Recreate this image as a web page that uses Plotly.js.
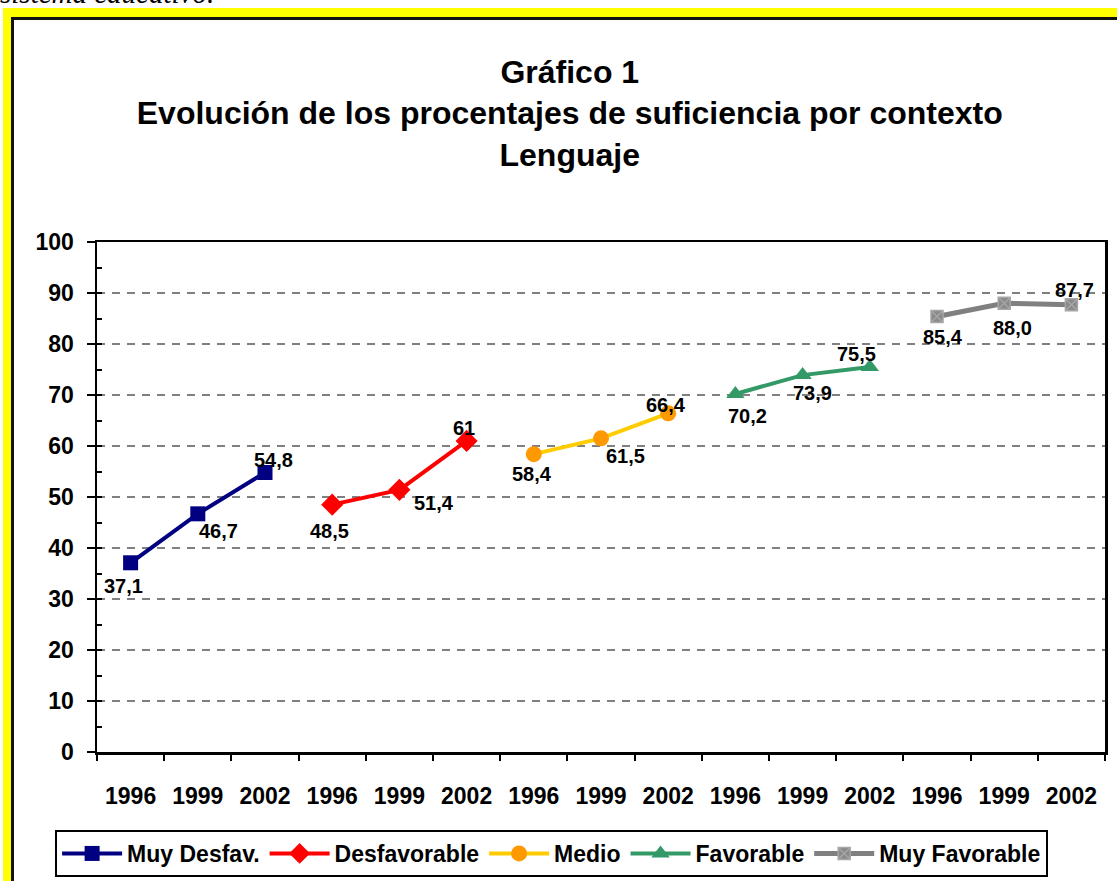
<!DOCTYPE html>
<html>
<head>
<meta charset="utf-8">
<script src="https://cdn.plot.ly/plotly-3.0.1.min.js"></script>
<style>
  html, body { margin: 0; padding: 0; background: #fff; overflow: hidden; }
  #note { position: absolute; left: 0px; top: -21px; font: italic 29px "Liberation Serif", "Times New Roman", serif; line-height: 1; white-space: nowrap; }
  #frame { position: absolute; left: 3px; top: 8px; right: 0; bottom: 0; background: #ffff00; }
  #inner { position: absolute; left: 8px; top: 9px; right: 0; bottom: 0; background: #fff;
           border-left: 3px solid #111; border-top: 3px solid #111; }
  #chart { position: absolute; left: 0; top: 0; width: 1117px; height: 881px; }
</style>
</head>
<body>
<div id="note">sistema educativo.</div>
<div id="frame"><div id="inner"></div></div>
<div id="chart"></div>
<script>
/* datos: contexto x año */
const years    = ['1996', '1999', '2002'];
const contexts = ['Muy Desfav.', 'Desfavorable', 'Medio', 'Favorable', 'Muy Favorable'];

const muyDesfav = [37.1, 46.7, 54.8];
const desfav    = [48.5, 51.4, 61];
const medio     = [58.4, 61.5, 66.4];
const favorable = [70.2, 73.9, 75.5];
const muyFav    = [85.4, 88.0, 87.7];

const labels = [
  ['37,1', '46,7', '54,8'],
  ['48,5', '51,4', '61'],
  ['58,4', '61,5', '66,4'],
  ['70,2', '73,9', '75,5'],
  ['85,4', '88,0', '87,7']
];

/* estilos */
const FONT = 'Liberation Sans, Arial, sans-serif';
const styles = [
  { line: '#000080', mcol: '#000080', symbol: 'square',   size: 15, lw: 4 },
  { line: '#ff0000', mcol: '#ff0000', symbol: 'diamond',  size: 17, lw: 4 },
  { line: '#ffcc00', mcol: '#ff9900', symbol: 'circle',   size: 16, lw: 4 },
  { line: '#339966', mcol: '#339966', symbol: 'triangle-up', size: 16, lw: 4 },
  { line: '#808080', mcol: '#8a8a8a', symbol: 'square-x', size: 12, lw: 5 }
];
/* desplazamiento de etiquetas (px, dx / dy hacia abajo) */
const labelShift = [
  [[-7, 23], [21, 17], [8, -13]],
  [[-3, 26], [35, 13], [-3, -13]],
  [[-2, 20], [24, 18], [-2, -8]],
  [[12, 22], [10, 18], [-13, -13]],
  [[6, 21],  [8, 25],  [3, -15]]
];

const series = [muyDesfav, desfav, medio, favorable, muyFav];
const nCat = contexts.length * years.length;
const catIdx = [...Array(nCat).keys()];
const catText = catIdx.map(i => years[i % years.length]);

const traces = series.map((vals, k) => ({
  x: vals.map((_, j) => k * years.length + j),
  y: vals,
  name: contexts[k],
  type: 'scatter',
  mode: 'lines+markers',
  line: { color: styles[k].line, width: styles[k].lw },
  marker: { color: styles[k].mcol, symbol: styles[k].symbol, size: styles[k].size,
            line: { color: k === 4 ? '#a6a6a6' : styles[k].mcol, width: k === 4 ? 1.5 : 0 } },
  hoverinfo: 'skip'
}));

const annotations = [];
series.forEach((vals, k) => vals.forEach((v, j) => {
  annotations.push({
    x: k * years.length + j, y: v, xref: 'x', yref: 'y',
    text: labels[k][j], showarrow: false,
    xshift: labelShift[k][j][0], yshift: -labelShift[k][j][1],
    font: { family: FONT, size: 20, color: '#000', weight: 'bold' }
  });
}));

const layout = {
  width: 1117, height: 881,
  margin: { l: 97, r: 12, t: 242, b: 129 },
  paper_bgcolor: 'rgba(0,0,0,0)',
  plot_bgcolor: '#fff',
  title: {
    text: 'Gráfico 1<br>Evolución de los procentajes de suficiencia por contexto<br>Lenguaje',
    font: { family: FONT, size: 32, color: '#000', weight: 'bold' },
    x: 0.469, xref: 'paper', xanchor: 'center',
    y: 0.906, yref: 'container', yanchor: 'top'
  },
  xaxis: {
    range: [-0.5, nCat - 0.5],
    tickvals: catIdx, ticktext: catText,
    ticks: '', ticklabelstandoff: 22,
    tickfont: { family: FONT, size: 23, color: '#000', weight: 'bold' },
    showgrid: false, zeroline: false, automargin: false,
    showline: true, linecolor: '#000', linewidth: 2.5, mirror: true,
    fixedrange: true
  },
  xaxis2: {
    overlaying: 'x', anchor: 'y',
    range: [-0.5, nCat - 0.5],
    tickvals: [...Array(nCat + 1).keys()].map(i => i - 0.5),
    ticks: 'outside', ticklen: 8, tickwidth: 2, tickcolor: '#000',
    showticklabels: false, showgrid: false, zeroline: false, showline: false
  },
  yaxis: {
    range: [0, 100], dtick: 10,
    ticks: 'outside', ticklen: 8, tickwidth: 2, tickcolor: '#000',
    ticklabelstandoff: 8, automargin: false,
    tickfont: { family: FONT, size: 23, color: '#000', weight: 'bold' },
    showgrid: true, gridcolor: '#808080', gridwidth: 2.5, griddash: '8px,7px',
    zeroline: false,
    showline: true, linecolor: '#000', linewidth: 2.5, mirror: true
  },
  yaxis2: {
    overlaying: 'y', anchor: 'x',
    range: [0, 100], dtick: 5,
    ticks: 'inside', ticklen: 5, tickwidth: 2, tickcolor: '#000',
    showticklabels: false, showgrid: false, zeroline: false, showline: false
  },
  showlegend: true,
  legend: {
    orientation: 'h', x: 0.451, xanchor: 'center',
    yref: 'container', y: 0.0579, yanchor: 'top',
    bgcolor: '#fff', bordercolor: '#000', borderwidth: 2,
    font: { family: FONT, size: 23, color: '#000', weight: 'bold' },
    itemwidth: 60, traceorder: 'normal'
  },
  annotations: annotations
};

/* traza vacía para que se dibujen los ejes secundarios */
traces.push({ x: [], y: [], xaxis: 'x2', yaxis: 'y2', showlegend: false, hoverinfo: 'skip' });

Plotly.newPlot('chart', traces, layout, { displayModeBar: false, staticPlot: true });
</script>
</body>
</html>
